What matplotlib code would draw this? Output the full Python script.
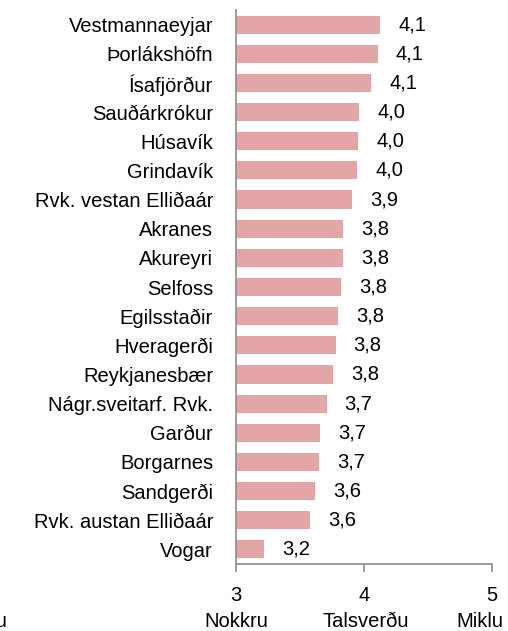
import numpy as np
import matplotlib
matplotlib.use('Agg')
import matplotlib.pyplot as plt

plt.rcParams['font.family'] = ['Liberation Sans', 'DejaVu Sans']

# Gögn
stadir = ['Vestmannaeyjar', 'Þorlákshöfn', 'Ísafjörður', 'Sauðárkrókur', 'Húsavík',
          'Grindavík', 'Rvk. vestan Elliðaár', 'Akranes', 'Akureyri', 'Selfoss',
          'Egilsstaðir', 'Hveragerði', 'Reykjanesbær', 'Nágr.sveitarf. Rvk.',
          'Garður', 'Borgarnes', 'Sandgerði', 'Rvk. austan Elliðaár', 'Vogar']
gildi = [4.13, 4.11, 4.06, 3.965, 3.957, 3.951, 3.91, 3.84, 3.84, 3.82,
         3.80, 3.78, 3.76, 3.71, 3.66, 3.652, 3.62, 3.58, 3.22]
x_ticks = [3, 4, 5]
x_ord = ['Nokkru', 'Talsverðu', 'Miklu']

grunnur = 3
fs = 14.5
grar = '#8c8c8c'

fig = plt.figure(figsize=(5.08, 6.31), dpi=100)
ax = fig.add_axes([236 / 508, 1 - 564 / 631, 255.5 / 508, 554 / 631])

y = np.arange(len(stadir))
lengd = [v - grunnur for v in gildi]
ax.barh(y, lengd, left=grunnur, height=0.62, color='#E3A5A6')

for yi, v in zip(y, gildi):
    ax.annotate(f'{v:.1f}'.replace('.', ','), xy=(v, yi), xytext=(18, 0),
                textcoords='offset pixels', ha='left', va='center', fontsize=fs)

ax.set_ylim(len(stadir) - 0.5, -0.5)
ax.set_xlim(3, 5)
ax.set_yticks(y)
ax.set_yticklabels(stadir, fontsize=fs)
ax.set_xticks(x_ticks)
ax.set_xticklabels([str(t) for t in x_ticks], fontsize=fs)
ax.tick_params(axis='y', length=0, pad=16.5)
ax.tick_params(axis='x', length=6, color=grar, width=1.2, pad=10)

for s in ['top', 'right']:
    ax.spines[s].set_visible(False)
for s in ['left', 'bottom']:
    ax.spines[s].set_color(grar)
    ax.spines[s].set_linewidth(1.2)

# Orðaskali undir tölunum
hlidrun = [0, 2, -12]
for t, ord_, h in zip(x_ticks, x_ord, hlidrun):
    ax.annotate(ord_, xy=(t, 0), xycoords=('data', 'axes fraction'),
                xytext=(h, -48), textcoords='offset pixels',
                ha='center', va='top', fontsize=fs, annotation_clip=False)
fig.text(7 / 508, 1 - 612 / 631, 'Litlu', ha='right', va='top', fontsize=fs)

fig.savefig('out.png', dpi=100)
